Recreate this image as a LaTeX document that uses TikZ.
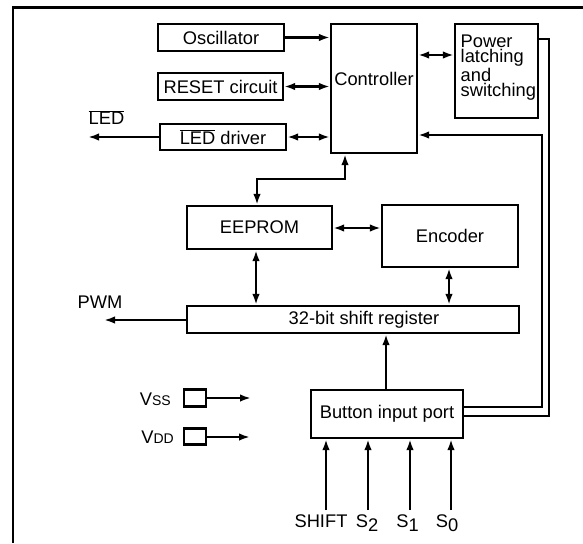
\documentclass[tikz,border=0pt]{standalone}
\usepackage{fontspec}
\setmainfont{Liberation Sans}
\usetikzlibrary{arrows.meta}
\begin{document}
\begin{tikzpicture}[x=1pt,y=-1pt,
  font=\fontsize{18.3}{15.2}\selectfont,
  >={Latex[length=11pt,width=7.5pt]},
  box/.style 2 args={draw, line width=2.2pt, inner sep=0pt, minimum width=#1pt, minimum height=#2pt},
  ln/.style={line width=2.2pt},
  arr/.style={line width=2.2pt, ->},
  darr/.style={line width=2.2pt, <->},
  lbl/.style={inner sep=0pt}]
\useasboundingbox (0,0) rectangle (583,543);
% frame
\draw[line width=2.4pt] (583,7.5) -- (13,7.5) -- (13,543);
% boxes
\node[box={126}{27}] (osc) at (221,37.5) {Oscillator};
\node[box={125}{27}] (rst) at (220.5,86.5) {RESET circuit};
\node[box={126}{26}] (led) at (223,137) {$\overline{\mbox{LED}}$ driver};
\node[box={86}{129}] (ctrl) at (374,88.5) {};
\node[lbl] (ctrltxt) at (374,79) {Controller};
\node[box={83}{94}] (pwr) at (496.5,71) {};
\node[lbl, anchor=north west, align=left] (pwrtxt) at (460.5,35) {Power\\latching\\and\\switching};
\node[box={145}{43}] (eep) at (259.5,227.5) {EEPROM};
\node[box={136}{62}] (enc) at (450,236) {Encoder};
\node[box={332}{27}] (sr) at (353,319.5) {};
\node[lbl] (srtxt) at (364,319.5) {32-bit shift register};
\node[box={152}{48}] (btn) at (387,414) {Button input port};
\node[box={22}{17}] (vss) at (195,398) {};
\node[box={22}{16}] (vdd) at (195,436.5) {};
\node[lbl, anchor=east] (vsslbl) at (171,399) {V{\fontsize{14}{14}\selectfont SS}};
\node[lbl, anchor=east] (vddlbl) at (174,437) {V{\fontsize{14}{14}\selectfont DD}};
% labels
\node[lbl] (ledlbl) at (106.5,117.5) {$\overline{\mbox{LED}}$};
\node[lbl] (pwmlbl) at (100,302.5) {PWM};
% coordinates
\coordinate (ledout) at (88,137);
\coordinate (pwmout) at (104,320);
\coordinate (cp) at (0,55);
\coordinate (po1) at (549,39);
\coordinate (po2) at (549,416);
\coordinate (pi1) at (542,135);
\coordinate (pi2) at (542,407);
\coordinate (ce1) at (345,179);
\coordinate (ce2) at (257,179);
\coordinate (ee) at (0,228);
\coordinate (es) at (256,0);
\coordinate (ens) at (449,0);
\coordinate (bs) at (386,0);
\coordinate (vssout) at (251,398);
\coordinate (vddout) at (250,437);
\coordinate (in1) at (326,510);
\coordinate (in2) at (368,510);
\coordinate (in3) at (410,510);
\coordinate (in4) at (451,510);
% input labels
\node[lbl, anchor=base] (shiftlbl) at (321,527) {SHIFT};
\node[lbl, anchor=base] (s2lbl) at (367,527) {S\raisebox{-4pt}{2}};
\node[lbl, anchor=base] (s1lbl) at (407.5,527) {S\raisebox{-4pt}{1}};
\node[lbl, anchor=base] (s0lbl) at (447,527) {S\raisebox{-4pt}{0}};
% connectors
\draw[arr] (osc.east) -- (osc.east -| ctrl.west);
\draw[darr] (rst.east) -- (rst.east -| ctrl.west);
\draw[darr] (led.east) -- (led.east -| ctrl.west);
\draw[arr] (led.west) -- (ledout);
\draw[darr] (ctrl.east |- cp) -- (pwr.west |- cp);
\draw[ln] (pwr.east |- po1) -- (po1) -- (po2) -- (btn.east |- po2);
\draw[arr] (btn.east |- pi2) -- (pi2) -- (pi1) -- (ctrl.east |- pi1);
\draw[darr] (ctrl.south -| ce1) -- (ce1) -- (ce2) -- (eep.north -| ce2);
\draw[darr] (eep.east |- ee) -- (enc.west |- ee);
\draw[darr] (eep.south -| es) -- (sr.north -| es);
\draw[darr] (enc.south -| ens) -- (sr.north -| ens);
\draw[arr] (sr.west |- pwmout) -- (pwmout);
\draw[arr] (btn.north -| bs) -- (sr.south -| bs);
\draw[arr] (vss.east) -- (vssout);
\draw[arr] (vdd.east |- vddout) -- (vddout);
\draw[arr] (in1) -- (btn.south -| in1);
\draw[arr] (in2) -- (btn.south -| in2);
\draw[arr] (in3) -- (btn.south -| in3);
\draw[arr] (in4) -- (btn.south -| in4);
\end{tikzpicture}
\end{document}
